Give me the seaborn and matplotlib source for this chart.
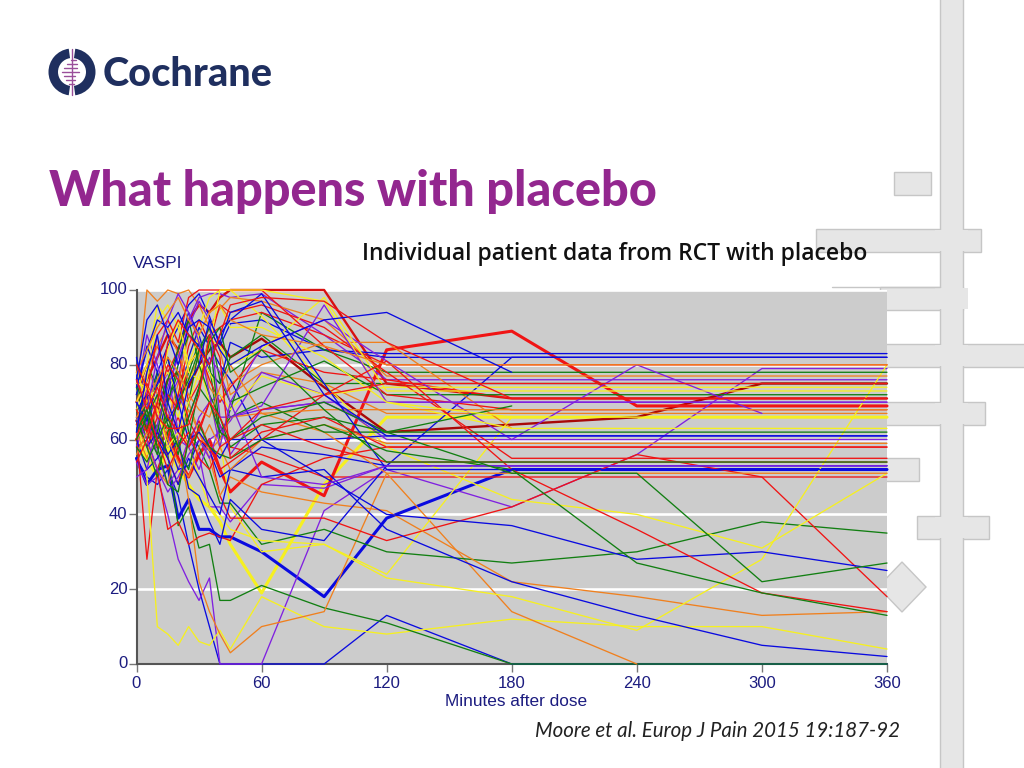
import pandas as pd
import matplotlib
matplotlib.use('Agg')
import matplotlib.pyplot as plt
from matplotlib.patches import Rectangle, Polygon, Wedge
import seaborn as sns

minutes = [0, 5, 10, 15, 20, 25, 30, 35, 40, 45, 60, 90, 120, 180, 240, 300, 360]
x_ticks = [0, 60, 120, 180, 240, 300, 360]
y_ticks = [0, 20, 40, 60, 80, 100]

# one list per patient, short list = line stops early
blue_lines = [
    [55, 50, 48, 52, 45, 32, 20, 10, 0, 0, 0, 0, 13, 0, 0, 0, 0],
    [82, 70, 78, 85, 90, 96, 99, 93, 85, 91, 92, 84, 83, 83, 83, 83, 83],
    [78, 65, 60, 72, 84, 94, 88, 78, 75, 86, 82, 84, 82, 82, 82, 82, 82],
    [60, 52, 55, 60, 52, 53, 60, 57, 50, 52, 58, 56, 53, 82, 82, 82, 82],
    [72, 85, 78, 65, 70, 82, 90, 85, 80, 76, 60, 60, 61, 61, 61, 61, 61],
    [65, 58, 62, 56, 60, 47, 45, 38, 32, 44, 36, 33, 53, 53, 53, 53, 53],
    [68, 72, 60, 55, 48, 55, 50, 45, 40, 52, 50, 52, 36, 22, 13, 5, 2],
    [70, 65, 75, 82, 70, 60, 62, 58, 55, 60, 60, 50, 40, 37, 28, 30, 25],
    [74, 84, 92, 90, 94, 88, 85, 80, 88, 92, 99, 75, 52, 52, 52, 52, 52],
    [76, 92, 96, 88, 80, 90, 92, 90, 84, 80, 85, 92, 94, 78],
    [62, 78, 88, 70, 62, 75, 80, 92, 86, 94, 97, 72, 61, 61, 61, 61, 61],
]
purple_lines = [
    [54, 48, 50, 40, 28, 22, 17, 23, 0, 0, 0, 41, 52, 42, 56, 79, 79],
    [58, 66, 56, 48, 52, 60, 56, 42, 42, 38, 48, 47, 53, 53, 53, 53, 53],
    [72, 88, 80, 70, 76, 92, 98, 99, 99, 98, 99, 88, 76, 76, 76, 76, 76],
    [70, 64, 72, 78, 62, 58, 66, 70, 72, 66, 68, 70, 70, 70, 70, 70, 70],
    [64, 70, 76, 68, 60, 58, 52, 60, 62, 65, 78, 72, 60, 60, 60, 60, 60],
    [60, 74, 66, 58, 72, 66, 74, 82, 78, 70, 85, 92, 81, 60, 80, 67],
    [66, 60, 52, 46, 50, 56, 60, 55, 64, 56, 68, 70, 62],
    [50, 52, 64, 74, 82, 90, 97, 92, 66, 66, 69, 96, 70, 70, 70, 70, 70],
    [76, 68, 82, 92, 99, 94, 86, 72, 58, 70, 50, 48, 53, 53, 53, 53, 53],
]
red_lines = [
    [62, 28, 52, 60, 66, 58, 62, 70, 64, 58, 56, 50, 50, 50, 50, 50, 50],
    [58, 60, 52, 36, 38, 32, 34, 35, 34, 33, 48, 55, 58, 58, 58, 58, 58],
    [66, 70, 62, 55, 48, 60, 65, 58, 45, 39, 39, 39, 33, 42, 56, 50, 18],
    [72, 80, 85, 78, 84, 70, 75, 88, 90, 92, 94, 88, 80, 80, 80, 80, 80],
    [65, 58, 66, 72, 68, 80, 84, 76, 70, 74, 84, 78, 76, 71, 71, 71, 71],
    [70, 75, 68, 60, 72, 85, 92, 86, 96, 94, 96, 90, 78, 55, 55, 55, 55],
    [60, 72, 88, 92, 86, 98, 100, 100, 100, 100, 100, 85, 72, 68, 68, 68, 68],
    [68, 62, 70, 80, 76, 65, 60, 58, 52, 54, 60, 72, 81, 52, 36, 19, 14],
    [64, 68, 60, 52, 58, 62, 55, 52, 58, 60, 64, 58, 54, 54, 54, 54, 54],
    [76, 68, 74, 66, 62, 58, 63, 70, 66, 60, 68, 72, 75, 75, 75, 75, 75],
    [54, 60, 70, 86, 92, 88, 84, 80, 88, 96, 98, 97, 86, 71, 71, 71, 71],
    [80, 74, 66, 63, 63, 64, 72, 88, 82, 55, 62, 66, 58, 58, 58, 58, 58],
]
orange_lines = [
    [72, 100, 97, 100, 99, 100, 96, 90, 84, 72, 78, 75, 67, 67, 67, 67, 67],
    [62, 55, 70, 62, 60, 44, 22, 14, 8, 3, 10, 14, 51, 14, 0],
    [68, 62, 58, 66, 72, 70, 62, 55, 45, 50, 46, 43, 41, 22, 18, 13, 14],
    [75, 80, 72, 65, 75, 88, 86, 74, 70, 75, 80, 86, 86, 63],
    [70, 78, 85, 90, 83, 76, 82, 90, 95, 98, 97, 92, 77, 77, 77, 77, 77],
    [64, 58, 52, 48, 60, 68, 62, 57, 60, 66, 67, 62, 51, 51, 51, 51, 51],
    [56, 62, 68, 60, 54, 50, 58, 64, 58, 52, 60, 64, 59, 59, 59, 59, 59],
    [66, 70, 76, 82, 78, 72, 68, 66, 74, 80, 67, 68, 68, 68, 68, 68, 68],
    [78, 84, 90, 94, 98, 92, 88, 94, 96, 92, 88, 85, 80, 80, 80, 80, 80],
]
yellow_lines = [
    [66, 50, 10, 8, 5, 10, 6, 5, 9, 4, 18, 10, 8, 12, 10, 10, 4],
    [64, 56, 60, 72, 66, 76, 80, 70, 60, 42, 30, 32, 24, 66],
    [60, 72, 66, 60, 64, 58, 50, 42, 40, 36, 33, 32, 23, 18, 9, 28, 80],
    [73, 80, 96, 92, 86, 82, 90, 98, 100, 100, 93, 75, 58, 44, 40, 31, 51],
    [78, 70, 74, 78, 72, 80, 84, 78, 72, 68, 77, 72, 74, 74, 74, 74, 74],
    [70, 76, 92, 96, 90, 78, 76, 87, 85, 80, 84, 98, 73, 73, 73, 73, 73],
    [68, 74, 68, 58, 62, 70, 78, 85, 100, 100, 100, 97, 70, 63, 63, 63, 63],
    [75, 74, 70, 84, 92, 80, 88, 94, 96, 90, 90, 82, 70, 66, 66, 66, 66],
]
green_lines = [
    [68, 60, 64, 56, 37, 42, 31, 32, 17, 17, 21, 15, 11, 0, 0, 0, 0],
    [70, 62, 56, 70, 78, 62, 58, 52, 43, 43, 32, 36, 30, 27, 30, 38, 35],
    [72, 80, 74, 82, 68, 78, 86, 80, 60, 68, 94, 84, 78, 78, 78, 78, 78],
    [74, 62, 78, 70, 80, 88, 85, 78, 75, 82, 88, 75, 75, 75, 75, 75, 75],
    [75, 66, 60, 64, 56, 70, 84, 90, 76, 70, 74, 81, 72, 72, 72, 72, 72],
    [66, 58, 50, 62, 70, 76, 84, 88, 62, 66, 70, 62, 62, 62, 62, 62, 62],
    [64, 70, 62, 76, 84, 92, 80, 72, 66, 58, 64, 66, 62, 69],
    [58, 54, 60, 66, 58, 52, 64, 58, 56, 55, 60, 64, 57, 52, 27, 19, 13],
    [60, 66, 72, 64, 58, 66, 74, 70, 62, 60, 66, 70, 62, 51, 51, 22, 27],
    [62, 68, 58, 48, 46, 60, 74, 86, 90, 78, 84, 68, 54, 54, 54, 54, 54],
]
bold_red = [60, 64, 58, 62, 55, 50, 56, 60, 52, 46, 54, 45, 84, 89, 69, 69, 69]
bold_dark_red = [65, 72, 68, 76, 78, 74, 80, 84, 86, 82, 87, 74, 62, 64, 66, 75, 75]
bold_top_red = [70, 76, 82, 88, 84, 92, 96, 94, 98, 100, 100, 100, 75, 71, 71, 71, 71]
bold_blue = [55, 48, 52, 53, 39, 44, 36, 36, 34, 34, 30, 18, 39, 52, 52, 52, 52]
bold_yellow = [60, 55, 50, 58, 52, 48, 44, 42, 38, 32, 19, 48, 66, 66, 66, 66, 66]

thin_groups = [
    (blue_lines, '#0a0ae0'), (purple_lines, '#8020e0'), (red_lines, '#f01414'),
    (orange_lines, '#f0801e'), (yellow_lines, '#f6f020'), (green_lines, '#127f12'),
]
bold_groups = [
    (bold_yellow, '#f6f020', 2.2), (bold_top_red, '#d81010', 1.7), (bold_dark_red, '#a80808', 1.7),
    (bold_red, '#f01414', 2.2), (bold_blue, '#0a0ae0', 2.2),
]

rows = []
colours = {}
widths = {}
n = 0
# bold ones first so the thin lines run over them
for line, col, w in bold_groups:
    for m, v in zip(minutes, line):
        rows.append((n, m, v))
    colours[n] = col
    widths[n] = w
    n += 1
for i in range(max(len(g[0]) for g in thin_groups)):
    for lines, col in thin_groups:
        if i < len(lines):
            for m, v in zip(minutes, lines[i]):
                rows.append((n, m, v))
            colours[n] = col
            widths[n] = 0.95
            n += 1
df = pd.DataFrame(rows, columns=['patient', 'minutes', 'vaspi'])

sns.set_theme(style='white')
fig = plt.figure(figsize=(10.24, 7.68), dpi=100, facecolor='white')

# slide background in pixel coordinates
bg = fig.add_axes([0, 0, 1, 1], zorder=0)
bg.set_xlim(0, 1024)
bg.set_ylim(768, 0)
bg.axis('off')
fill = '#e6e6e6'
edge = '#c6c6c6'
for x0, y0, x1, y1 in [(894, 172, 931, 195), (816, 229, 981, 252), (880, 287, 963, 310),
                       (880, 344, 1030, 367), (880, 402, 985, 425), (880, 458, 919, 481),
                       (917, 516, 989, 539)]:
    bg.add_patch(Rectangle((x0, y0), x1 - x0, y1 - y0, fc=fill, ec=edge, lw=1))
bg.plot([832, 940], [287, 287], color=edge, lw=1)
bg.add_patch(Polygon([(878, 587), (902, 562), (926, 587), (902, 612)], fc=fill, ec=edge, lw=1))
bg.add_patch(Rectangle((940, -5), 23, 780, fc=fill, ec=edge, lw=1))
for y0, y1 in [(229, 252), (287, 310), (344, 367), (402, 425), (516, 539)]:
    bg.add_patch(Rectangle((935, y0 + 0.7), 33, y1 - y0 - 1.4, fc=fill, ec='none'))

# logo
navy = '#1f2f5f'
bg.add_patch(Wedge((72, 72), 23.5, -82, 82, width=9.5, fc=navy, ec='none'))
bg.add_patch(Wedge((72, 72), 23.5, 98, 262, width=9.5, fc=navy, ec='none'))
bg.plot([71.5, 71.5], [49, 95], color='#9a4f9a', lw=1)
for y, a, b in [(60, 71, 76), (64, 67, 77), (68, 64, 77), (72, 62, 79), (76, 64, 75), (80, 66, 75), (84, 69, 74)]:
    bg.plot([a, b], [y, y], color='#9a4f9a', lw=1)
bg.text(103, 75, 'Cochrane', family='Lato', weight='black', fontsize=28.5, color=navy, va='center', ha='left')

bg.text(49, 191, 'What happens with placebo', family='Lato', weight='black', fontsize=35,
        color='#93278f', va='center', ha='left')
bg.text(362, 254.5, 'Individual patient data from RCT with placebo', family='Open Sans', weight='semibold',
        fontsize=16.5, color='#111111', va='center', ha='left')
bg.text(535, 731, 'Moore et al. Europ J Pain 2015 19:187-92', family='Lato', style='italic',
        fontsize=14.8, color='#222222', va='center', ha='left')

ax = fig.add_axes([136.5 / 1024, (768 - 664) / 768, 750.5 / 1024, 374 / 768], zorder=1)
ax.set_facecolor('#cccccc')
ax.set_axisbelow(True)
ax.yaxis.grid(True, color='white', lw=1.9)
ax.xaxis.grid(False)
sns.lineplot(data=df, x='minutes', y='vaspi', hue='patient', palette=colours, size='patient', sizes=widths,
             units='patient', estimator=None, sort=False, legend=False, ax=ax, clip_on=False)
ax.set_xlim(0, 360)
ax.set_ylim(0, 100)
ax.set_xticks(x_ticks)
ax.set_yticks(y_ticks)
ink = '#1c1c80'
ax.tick_params(axis='both', direction='out', length=6, width=1, color='#777777', labelcolor=ink,
               labelsize=12, left=True, bottom=True, pad=2.5)
ax.tick_params(axis='y', pad=0.5)
for lab in ax.get_xticklabels() + ax.get_yticklabels():
    lab.set_family('Liberation Sans')
for lab in ax.get_yticklabels():
    lab.set_verticalalignment('center')
ax.spines['top'].set_visible(False)
ax.spines['right'].set_visible(False)
for s in ['left', 'bottom']:
    ax.spines[s].set_color('#555555')
    ax.spines[s].set_linewidth(1.5)
    ax.spines[s].set_zorder(1.5)
ax.set_xlabel('')
ax.set_ylabel('')
bg.text(133, 263, 'VASPI', family='Liberation Sans', fontsize=12.4, color=ink, va='center', ha='left')
bg.text(516, 701, 'Minutes after dose', family='Liberation Sans', fontsize=12.4, color=ink, va='center', ha='center')

fig.savefig('out.png', dpi=100)
